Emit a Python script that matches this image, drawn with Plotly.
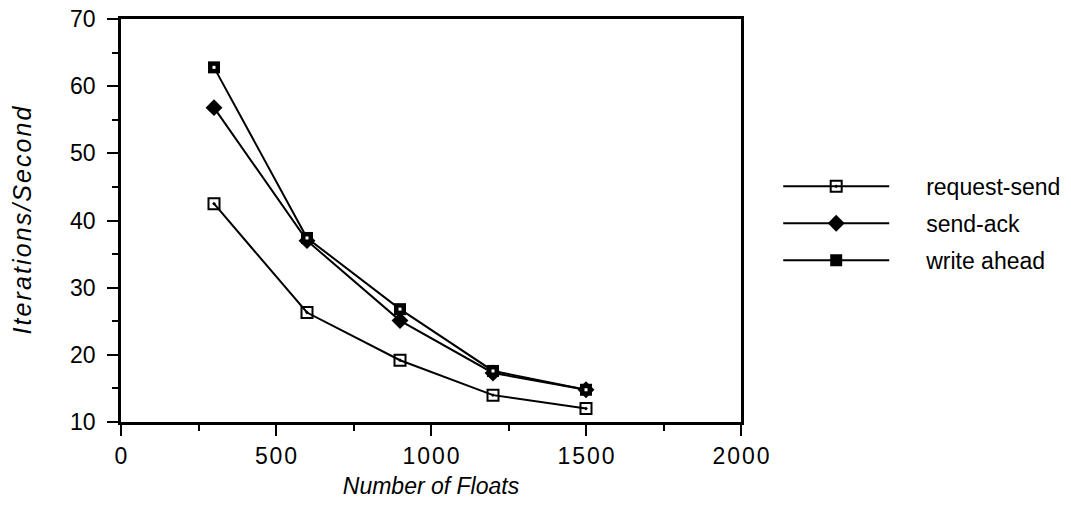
import plotly.graph_objects as go

floats = [300, 600, 900, 1200, 1500]
request_send = [42.5, 26.3, 19.2, 14.0, 12.0]
send_ack = [56.8, 37.0, 25.1, 17.3, 14.8]
write_ahead = [62.8, 37.4, 26.8, 17.6, 14.8]
x_ticks = [0, 500, 1000, 1500, 2000]

FONT = "Liberation Sans, Arial, sans-serif"
HS = "\u200a"  # hair space for letter spacing
NB = "\u00a0"


def spaced(s):
    return HS.join(list(s))


fig = go.Figure()
fig.add_trace(go.Scatter(x=floats, y=request_send, name=NB * 5 + "request-send", mode="lines+markers",
                         legendgroup="a",
                         line=dict(color="black", width=2),
                         marker=dict(symbol="square-open-dot", size=11, color="black", line=dict(width=2))))
fig.add_trace(go.Scatter(x=floats, y=send_ack, name=NB * 5 + "send-ack", mode="lines+markers",
                         legendgroup="b",
                         line=dict(color="black", width=2),
                         marker=dict(symbol="diamond", size=13, color="black", line=dict(width=0))))
fig.add_trace(go.Scatter(x=floats, y=write_ahead, name=NB * 5 + "write ahead", mode="lines+markers",
                         legendgroup="c",
                         line=dict(color="black", width=2),
                         marker=dict(symbol="square", size=12, color="black", line=dict(width=0))))
fig.add_trace(go.Scatter(x=floats, y=write_ahead, mode="markers", showlegend=False, hoverinfo="skip",
                         legendgroup="c",
                         marker=dict(symbol="square", size=3, color="white", line=dict(width=0))))

axis_common = dict(showgrid=False, zeroline=False, showline=True, linecolor="black", linewidth=2.5,
                   mirror=True, ticks="outside", ticklen=11, tickwidth=2, tickcolor="black",
                   automargin=False, ticklabeloverflow="allow",
                   tickfont=dict(family=FONT, size=23, color="black"))

fig.update_layout(
    width=1053, height=495,
    margin=dict(l=113, r=320, t=11, b=81, autoexpand=False),
    paper_bgcolor="white", plot_bgcolor="white",
    font=dict(family=FONT, size=23, color="black"),
    showlegend=True,
    xaxis=dict(range=[0, 2000], tickvals=x_ticks,
               ticktext=[spaced(str(v)) for v in x_ticks],
               ticklabelstandoff=1,
               minor=dict(dtick=250, ticklen=6, tickwidth=2, tickcolor="black", ticks="outside"),
               title=dict(text="<i>Number of Floats</i>", font=dict(family=FONT, size=23), standoff=10),
               **axis_common),
    yaxis=dict(range=[10, 70], dtick=10, ticklabelstandoff=7,
               minor=dict(dtick=5, ticklen=6, tickwidth=2, tickcolor="black", ticks="outside"),
               title=dict(text="<i>" + spaced("Iterations/Second") + "</i>", font=dict(family=FONT, size=25),
                          standoff=33),
               **axis_common),
    legend=dict(x=1.06, y=0.638, xanchor="left", yanchor="top", itemwidth=106,
                traceorder="grouped", tracegroupgap=4,
                font=dict(family=FONT, size=23, color="black"),
                bgcolor="rgba(0,0,0,0)", borderwidth=0),
)

fig.write_html("out.html")
